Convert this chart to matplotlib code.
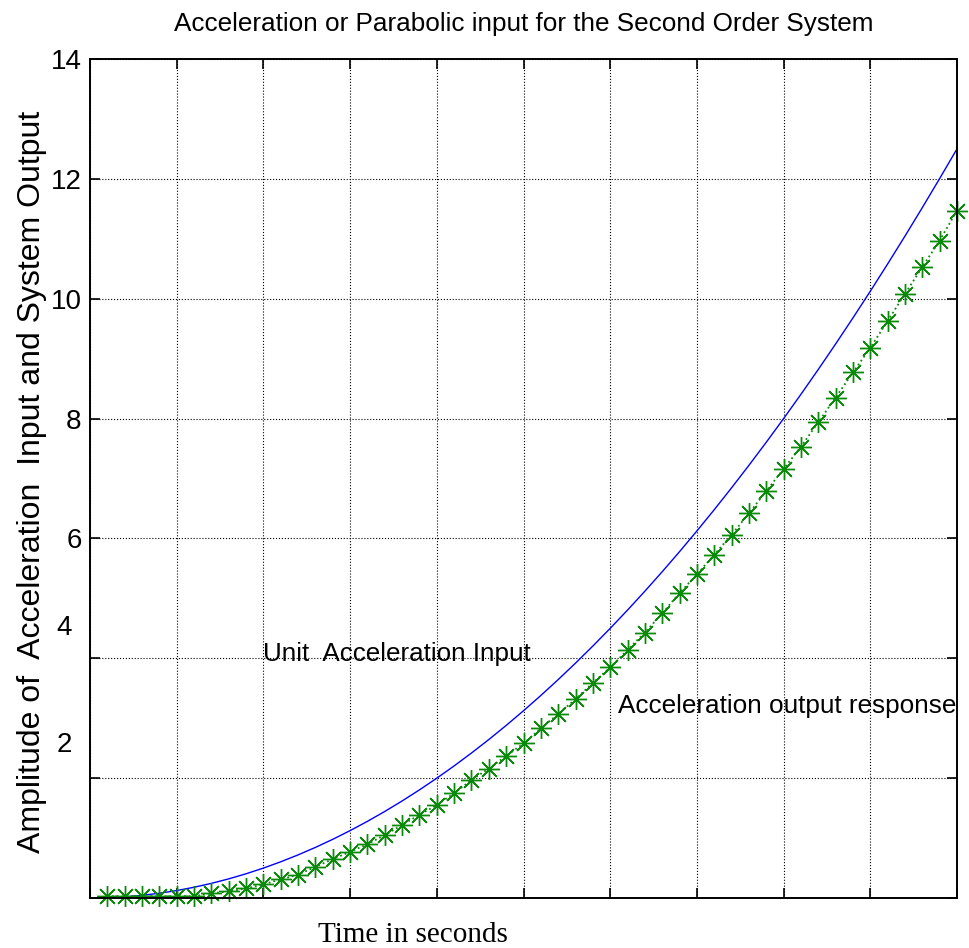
import matplotlib
matplotlib.use("Agg")
import matplotlib.pyplot as plt

plt.rcParams['font.family'] = ['Liberation Sans', 'DejaVu Sans']

# time axis, 0 to 5 s in 0.1 s steps
t = [0.0, 0.1, 0.2, 0.3, 0.4, 0.5, 0.6, 0.7, 0.8, 0.9,
     1.0, 1.1, 1.2, 1.3, 1.4, 1.5, 1.6, 1.7, 1.8, 1.9,
     2.0, 2.1, 2.2, 2.3, 2.4, 2.5, 2.6, 2.7, 2.8, 2.9,
     3.0, 3.1, 3.2, 3.3, 3.4, 3.5, 3.6, 3.7, 3.8, 3.9,
     4.0, 4.1, 4.2, 4.3, 4.4, 4.5, 4.6, 4.7, 4.8, 4.9, 5.0]

# unit acceleration input (blue line)
u_in = [0, 0.005, 0.02, 0.045, 0.08, 0.125, 0.18, 0.245, 0.32, 0.405,
        0.5, 0.605, 0.72, 0.845, 0.98, 1.125, 1.28, 1.445, 1.62, 1.805,
        2.0, 2.205, 2.42, 2.645, 2.88, 3.125, 3.38, 3.645, 3.92, 4.205,
        4.5, 4.805, 5.12, 5.445, 5.78, 6.125, 6.48, 6.845, 7.22, 7.605,
        8.0, 8.405, 8.82, 9.245, 9.68, 10.125, 10.58, 11.045, 11.52, 12.005, 12.5]

# system output (green asterisks), read at t = 0.1 ... 5.0
t_out = t[1:]
y_out = [0.03, 0.03, 0.03, 0.03, 0.03, 0.03, 0.08, 0.11, 0.16, 0.23,
         0.31, 0.39, 0.52, 0.65, 0.77, 0.90, 1.05, 1.22, 1.39, 1.55,
         1.75, 1.97, 2.16, 2.37, 2.58, 2.83, 3.07, 3.32, 3.59, 3.85,
         4.14, 4.43, 4.75, 5.09, 5.40, 5.73, 6.06, 6.42, 6.79, 7.16,
         7.53, 7.94, 8.35, 8.77, 9.18, 9.63, 10.08, 10.53, 10.97, 11.47]

xticks = [0, 0.5, 1, 1.5, 2, 2.5, 3, 3.5, 4, 4.5, 5]
yticks = [0, 2, 4, 6, 8, 10, 12, 14]
ylabels = ['', '', '', '6', '8', '10', '12', '14']
# the '2' and '4' labels sit above their grid lines in the original
shifted_pos = [2.61, 4.56]
shifted_labels = ['2', '4']

fig = plt.figure(figsize=(9.7, 9.48), dpi=100)
ax = fig.add_axes([0.0928, 0.0527, 0.8938, 0.8851])

ax.plot(t, u_in, color='#0000ff', lw=1.0)
ax.plot(t_out, y_out, color='#0a8a0a', ls=':', lw=1.3, marker=(8, 2, 0),
        markersize=15, markeredgewidth=1.0, markeredgecolor='#0a8a0a',
        clip_on=False)

ax.set_xlim(0, 5)
ax.set_ylim(0, 14)
ax.set_xticks(xticks)
ax.set_xticklabels([])
ax.set_yticks(yticks)
ax.set_yticklabels(ylabels)
ax.set_yticks(shifted_pos, labels=shifted_labels, minor=True)
ax.tick_params(which='major', direction='in', length=7, width=1.2,
               top=True, right=True, labelsize=20, pad=6)
ax.tick_params(which='minor', length=0, labelsize=20, pad=13)
ax.grid(True, which='major', color='k', ls=':', lw=0.8)
for s in ax.spines.values():
    s.set_linewidth(1.4)

ax.set_title('Acceleration or Parabolic input for the Second Order System',
             fontsize=18.8, pad=20)
ax.set_ylabel('Amplitude of  Acceleration  Input and System Output',
              fontsize=23)
ax.yaxis.set_label_coords(-0.05, 0.496)
ax.set_xlabel('Time in seconds', family='Liberation Serif', fontsize=21)
ax.xaxis.set_label_coords(0.3725, -0.028)

ax.text(1.0, 3.96, 'Unit  Acceleration Input', fontsize=18.7, va='baseline')
ax.text(3.045, 3.09, 'Acceleration output response', fontsize=18.8,
        va='baseline')

fig.savefig('out.png')
